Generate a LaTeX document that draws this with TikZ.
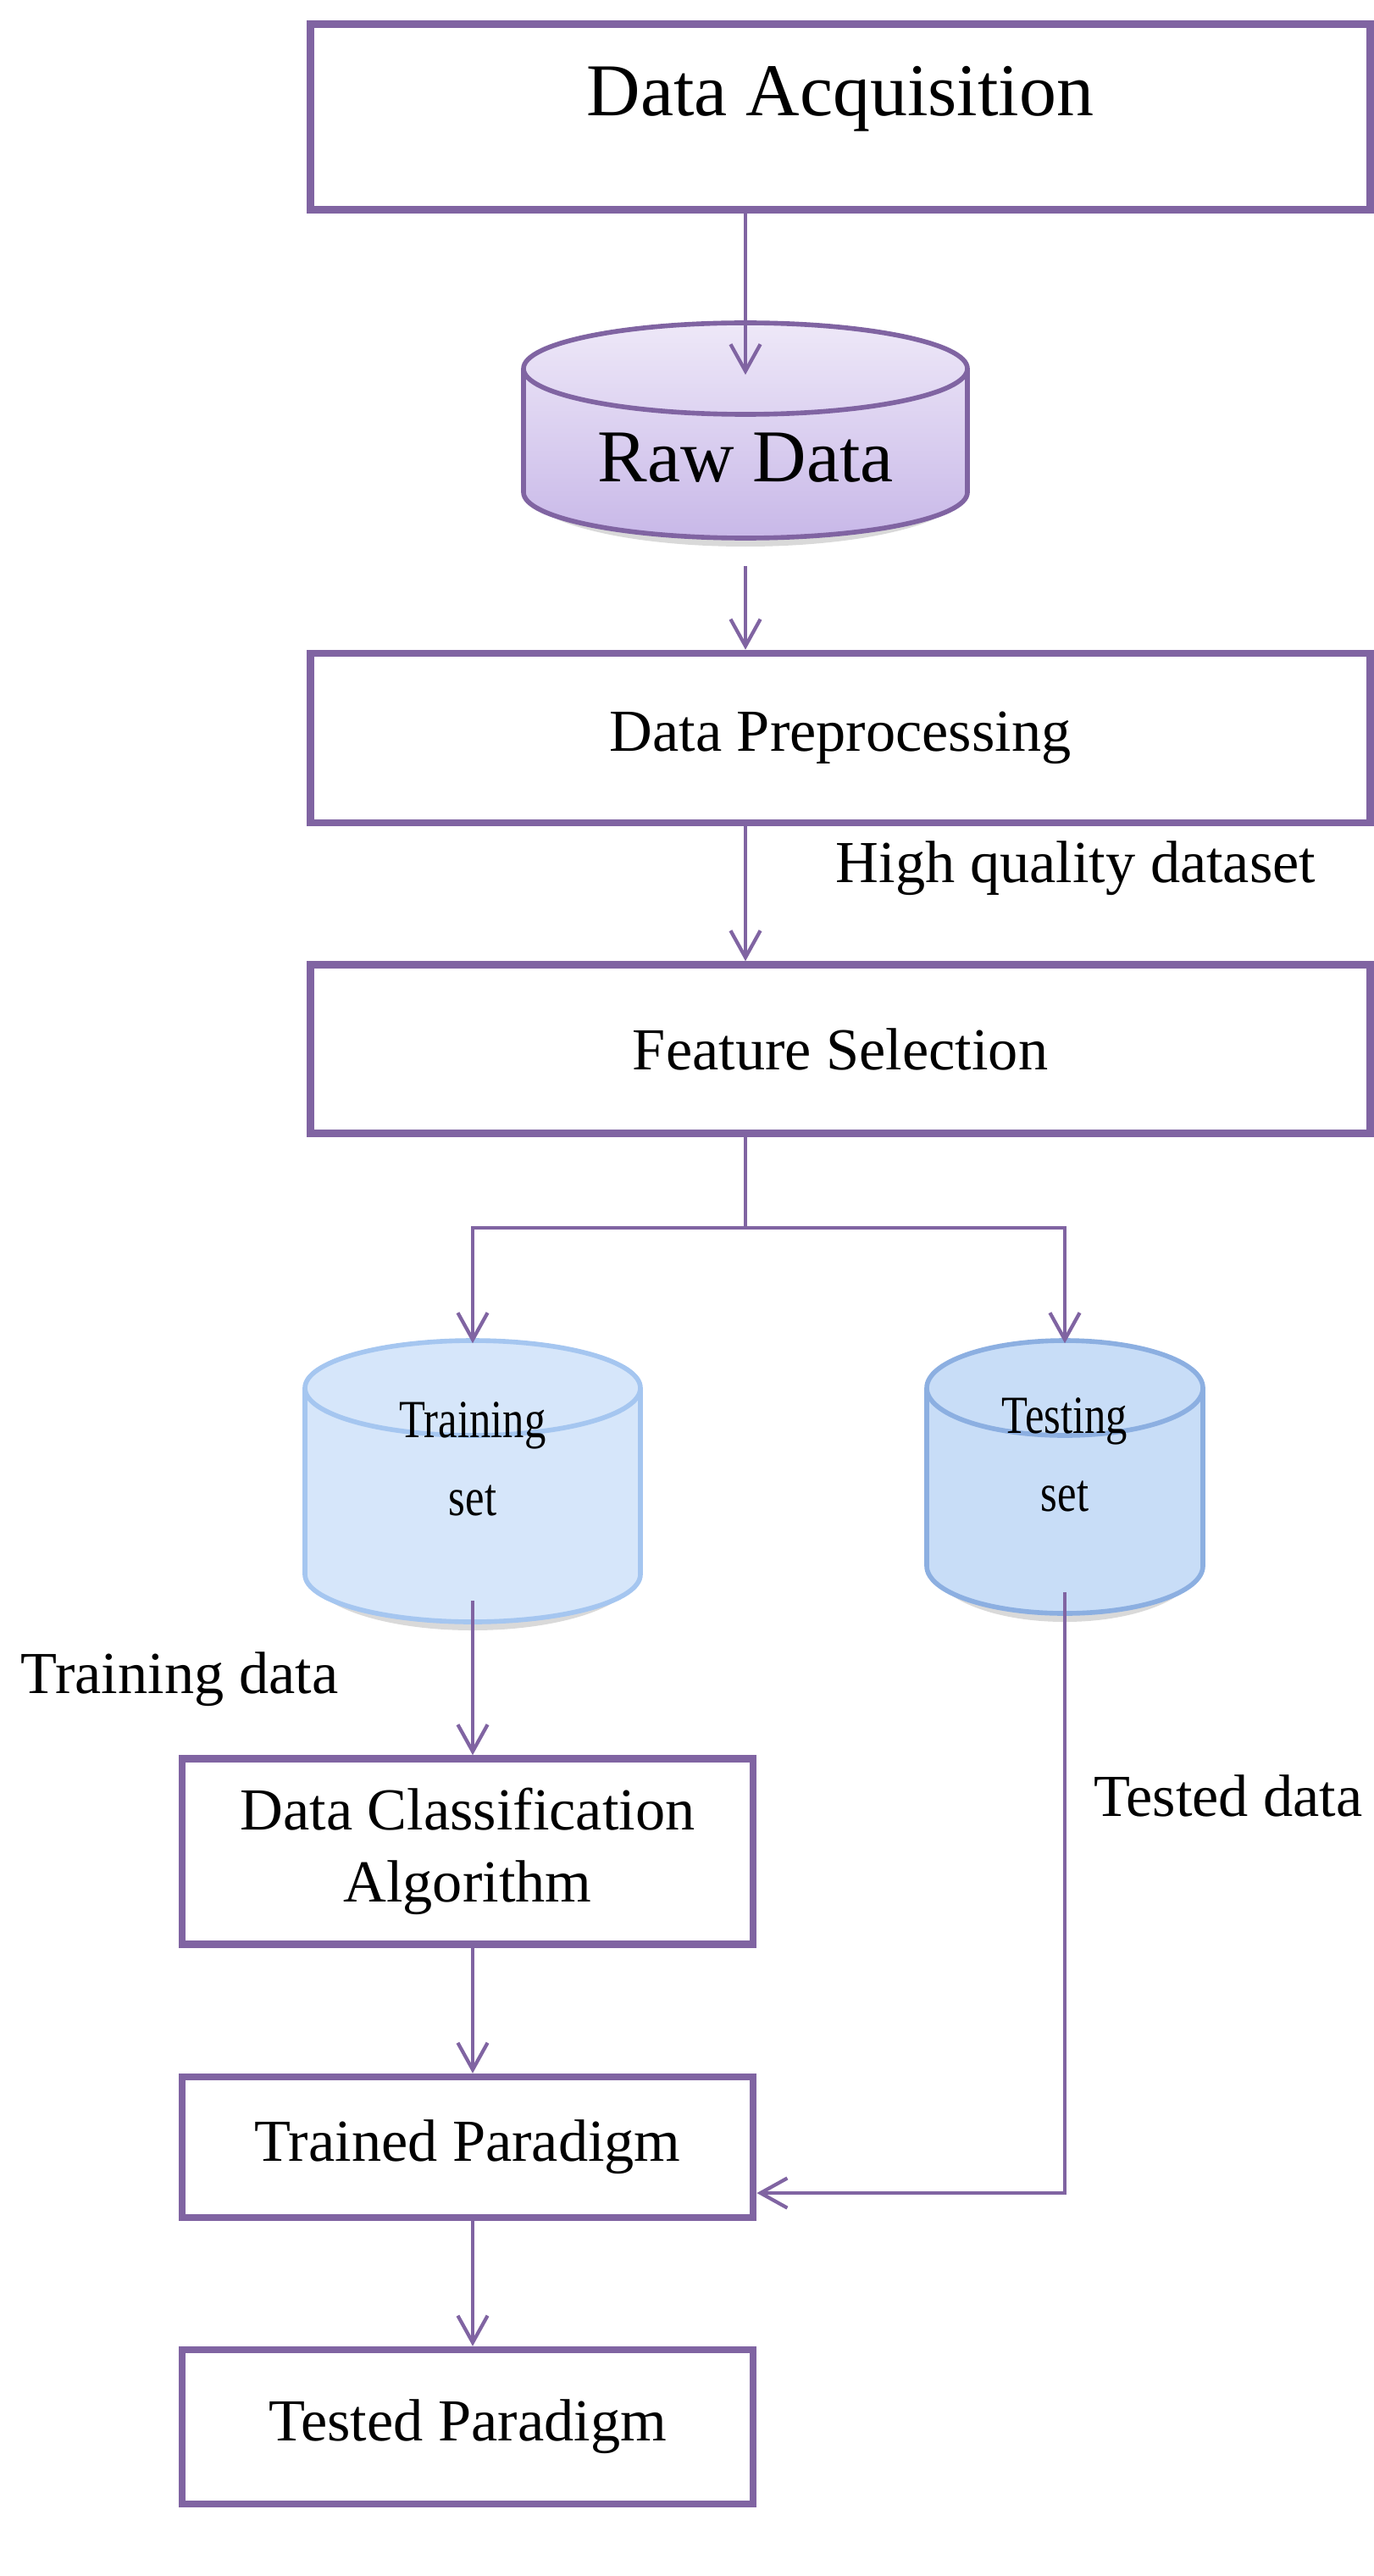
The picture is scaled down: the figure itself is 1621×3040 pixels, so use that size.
\documentclass[tikz,border=0pt]{standalone}
\usepackage{fontspec}
\setmainfont{Liberation Serif}
\usetikzlibrary{positioning, arrows.meta, calc}
\definecolor{flowline}{RGB}{128,100,162}
\definecolor{rawtop}{RGB}{238,232,248}
\definecolor{rawbot}{RGB}{200,184,232}
\definecolor{trainfill}{RGB}{214,230,250}
\definecolor{trainedge}{RGB}{165,198,240}
\definecolor{testfill}{RGB}{200,221,247}
\definecolor{testedge}{RGB}{140,175,225}

% drum: centre x, centre y, half width, half height, ellipse radius, fill style, edge colour
\newcommand{\drum}[7]{%
  \fill[black,opacity=.15] ({#1-#3+6},{#2+#4-#5}) arc[start angle=180,end angle=0,x radius=#3-6,y radius=#5+10]
    -- cycle;
  \path[#6, draw=#7, line width=1.6pt] ({#1-#3},{#2-#4+#5}) -- ({#1-#3},{#2+#4-#5})
    arc[start angle=180,end angle=0,x radius=#3,y radius=#5]
    -- ({#1+#3},{#2-#4+#5})
    arc[start angle=0,end angle=-180,x radius=#3,y radius=#5] -- cycle;
  \draw[#7, line width=1.6pt] ({#1-#3},{#2-#4+#5}) arc[start angle=180,end angle=0,x radius=#3,y radius=#5];
}

\begin{document}
\begin{tikzpicture}[x=0.01cm, y=-0.01cm, font=\fontsize{20}{24}\selectfont,
box/.style={rectangle, draw=flowline, line width=2.4pt, fill=white, minimum width=#1, align=center},
box/.default=12.5cm,
arrow/.style={-{Straight Barb[length=9pt,width=10pt]}, flowline, line width=1.2pt},
line/.style={flowline, line width=1.2pt},
lbl/.style={inner sep=0pt}
]
\useasboundingbox (0,0) rectangle (1621,3040);

% Databases
\drum{880}{508}{262}{127}{54}{top color=rawtop, bottom color=rawbot}{flowline}
\drum{558}{1748}{198}{166}{56}{fill=trainfill}{trainedge}
\drum{1257}{1743}{163}{161}{56}{fill=testfill}{testedge}

% Boxes
\node[box, minimum height=2.19cm, text depth=0.62cm, font=\fontsize{25}{30}\selectfont] (acq) at (992,138) {Data Acquisition};
\node[minimum width=5.24cm, minimum height=2.54cm, font=\fontsize{25}{30}\selectfont] (raw) at (880,540) {Raw Data};
\node[box, minimum height=2cm] (prep) at (992,871) {Data Preprocessing};
\node[box, minimum height=1.99cm] (feat) at (992,1238) {Feature Selection};
\node[minimum width=3.96cm, minimum height=3.32cm, align=center, font=\fontsize{18}{26}\selectfont\addfontfeature{FakeStretch=0.8}] (train) at (558,1722) {Training\\set};
\node[minimum width=3.26cm, minimum height=3.22cm, align=center, font=\fontsize{18}{26}\selectfont\addfontfeature{FakeStretch=0.8}] (test) at (1257,1717) {Testing\\set};
\node[box=6.74cm, minimum height=2.19cm] (classify) at (552,2185) {Data Classification\\Algorithm};
\node[box=6.74cm, minimum height=1.66cm] (trained) at (552,2534) {Trained Paradigm};
\node[box=6.74cm, minimum height=1.82cm] (tested) at (552,2864) {Tested Paradigm};

% Labels
\node[lbl] (hq) at (1270,1025) {High quality dataset};
\node[lbl] (trdata) at (212,1982) {Training data};
\node[lbl] (tedata) at (1450,2119) {Tested data};

% Connectors
\coordinate (split) at (880,1449);
\draw[arrow] (acq.south -| raw) -- ([yshift=-0.3cm]raw.north);
\draw[arrow] (raw.south) -- (prep.north -| raw);
\draw[arrow] (prep.south -| raw) -- (feat.north -| raw);
\draw[line] (feat.south -| split) -- (split);
\draw[arrow] (split) -| ([yshift=-0.3cm]train.north);
\draw[arrow] (split) -| ([yshift=-0.3cm]test.north);
\draw[arrow] (train.south) -- (classify.north -| train);
\draw[arrow] (classify.south -| train) -- (trained.north -| train);
\draw[arrow] (test.south) |- ([yshift=-0.54cm]trained.east);
\draw[arrow] (trained.south -| train) -- (tested.north -| train);

\end{tikzpicture}
\end{document}
